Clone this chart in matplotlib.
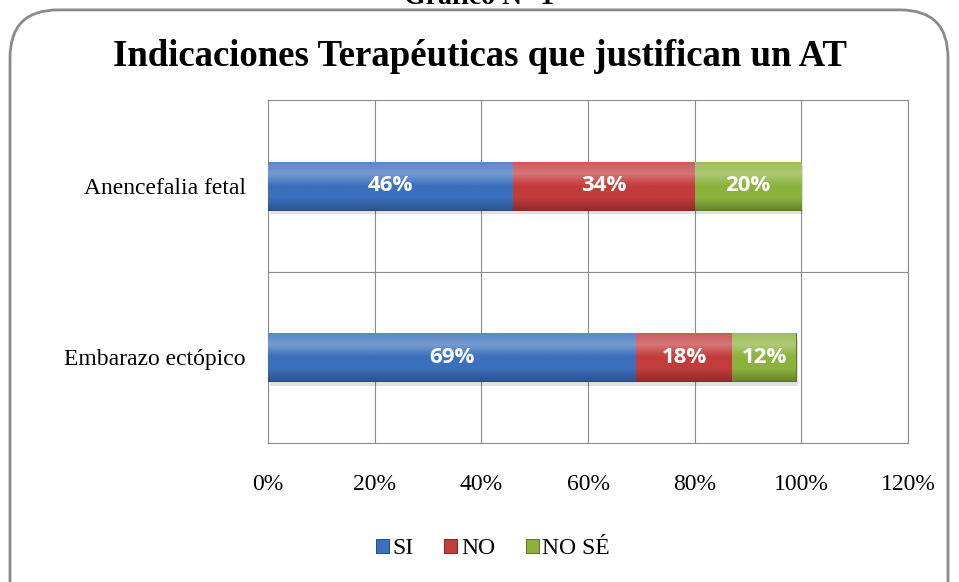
import matplotlib.pyplot as plt
from matplotlib.patches import FancyBboxPatch
from matplotlib.colors import LinearSegmentedColormap, to_rgb
import numpy as np

# data
categories = ['Embarazo ectópico', 'Anencefalia fetal']
series = ['SI', 'NO', 'NO SÉ']
si = [69, 46]
no = [18, 34]
nose = [12, 20]
colors = ['#3b70bd', '#c33c3c', '#8bb33c']
xticks = [0, 20, 40, 60, 80, 100, 120]


def shade(c, f):
    r = np.array(to_rgb(c))
    return tuple(np.clip(r + (1 - r) * f, 0, 1)) if f > 0 else tuple(r * (1 + f))


fig = plt.figure(figsize=(9.59, 5.82), dpi=100)

# rounded frame
frame = FancyBboxPatch((10 / 959, -0.1), 938 / 959, 1.083, transform=fig.transFigure,
                       boxstyle='round,pad=0,rounding_size=0.05', fc='white',
                       ec='#8a8a8a', lw=2, mutation_aspect=959 / 582, zorder=-5)
fig.patches.append(frame)

# caption cut off at the top edge, as in the source picture
fig.text(0.5, 1.004, 'Gráfico N° 1', ha='center', va='center', fontsize=20,
         fontweight='bold', family='Liberation Serif')
fig.text(0.5, 0.903, 'Indicaciones Terapéuticas que justifican un AT', ha='center',
         va='center', fontsize=26.5, fontweight='bold', family='Liberation Serif')

ax = fig.add_axes([268 / 959, 1 - 443 / 582, 640 / 959, 343 / 582])
y = np.arange(len(categories))
left = np.zeros(len(categories))
grad = np.linspace(0, 1, 64).reshape(-1, 1)
for name, vals, c in zip(series, [si, no, nose], colors):
    # soft shadow
    ax.barh(y - 0.025, vals, left=left + 0.4, height=0.28, color='#000000',
            alpha=0.12, lw=0, zorder=2)
    bars = ax.barh(y, vals, left=left, height=0.28, color=c,
                   edgecolor=shade(c, -0.35), linewidth=0.7, label=name, zorder=3)
    cmap = LinearSegmentedColormap.from_list(
        name, [shade(c, -0.25), c, c, shade(c, 0.3), shade(c, 0.15)])
    for b, v in zip(bars, vals):
        x0, y0, w, h = b.get_x(), b.get_y(), b.get_width(), b.get_height()
        im = ax.imshow(grad, extent=[x0, x0 + w, y0, y0 + h], origin='lower',
                       cmap=cmap, aspect='auto', zorder=3.1)
        im.set_clip_path(b)
        ax.text(x0 + w / 2, y0 + h / 2, f'{v}%', ha='center', va='center',
                color='white', fontsize=16, fontweight='bold', family='Open Sans',
                zorder=4)
    left += np.array(vals)

ax.set_xlim(0, 120)
ax.set_ylim(-0.5, 1.5)
ax.set_xticks(xticks)
ax.set_xticklabels([f'{t}%' for t in xticks], family='Liberation Serif', fontsize=17)
ax.set_yticks(y)
ax.set_yticklabels(categories, family='Liberation Serif', fontsize=17)
ax.set_yticks([-0.5, 0.5, 1.5], minor=True)
ax.grid(True, axis='x', color='#8c8c8c', lw=0.8, zorder=0)
ax.grid(True, axis='y', which='minor', color='#8c8c8c', lw=0.8, zorder=0)
ax.tick_params(axis='x', which='both', length=0, pad=22)
ax.tick_params(axis='y', which='both', length=0, pad=16)
for s in ax.spines.values():
    s.set_color('#8c8c8c')
    s.set_linewidth(0.8)
ax.set_facecolor('none')

handles, labels = ax.get_legend_handles_labels()
fig.legend(handles, labels, loc='center', bbox_to_anchor=(0.514, 1 - 549 / 582), ncol=3,
           frameon=False, prop={'family': 'Liberation Serif', 'size': 17},
           handlelength=0.55, handleheight=0.55, handletextpad=0.15, columnspacing=1.3)

fig.savefig('out.png', dpi=100)
